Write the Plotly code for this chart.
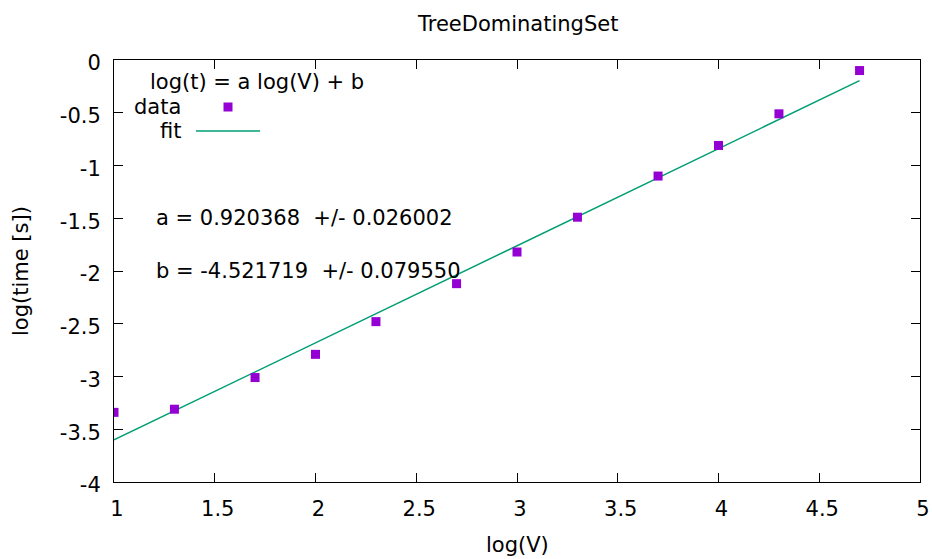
import plotly.graph_objects as go

# Data
log_v = [1.0, 1.3, 1.7, 2.0, 2.3, 2.7, 3.0, 3.3, 3.7, 4.0, 4.3, 4.7]
log_t = [-3.34, -3.31, -3.01, -2.79, -2.48, -2.12, -1.82, -1.49, -1.10, -0.81, -0.51, -0.10]
fit_a = 0.920368
fit_b = -4.521719
fit_a_err = 0.026002
fit_b_err = 0.079550
fit_x = [1.0, 4.7]
fit_y = [fit_a * x + fit_b for x in fit_x]
x_ticks = [1, 1.5, 2, 2.5, 3, 3.5, 4, 4.5, 5]
y_ticks = [0, -0.5, -1, -1.5, -2, -2.5, -3, -3.5, -4]

PURPLE = "#9400D3"
GREEN = "#009E73"
FONT = "DejaVu Sans"
FS = 21

W, H = 932, 559
L, R, T, B = 114, 12, 60, 77

fig = go.Figure()
fig.add_trace(go.Scatter(x=fit_x, y=fit_y, mode="lines",
                         line=dict(color=GREEN, width=1.5), showlegend=False))
fig.add_trace(go.Scatter(x=log_v, y=log_t, mode="markers",
                         marker=dict(symbol="square", size=9, color=PURPLE,
                                     line=dict(width=0)), showlegend=False))

pw = W - L - R
ph = H - T - B


def px(xp):
    return (xp - L) / pw


def py(yp):
    return 1 - (yp - T) / ph


ann = []
# Title
ann.append(dict(text="TreeDominatingSet", x=px(517), y=py(24), xref="paper", yref="paper",
                showarrow=False, xanchor="center", yanchor="middle", font=dict(size=FS)))
# Axis titles
ann.append(dict(text="log(V)", x=px(517), y=py(545), xref="paper", yref="paper",
                showarrow=False, xanchor="center", yanchor="middle", font=dict(size=FS)))
ann.append(dict(text="log(time [s])", x=px(21), y=py(271), xref="paper", yref="paper",
                showarrow=False, xanchor="center", yanchor="middle", textangle=-90, font=dict(size=FS)))
# Legend texts
ann.append(dict(text="log(t) = a log(V) + b", x=px(257), y=py(82), xref="paper", yref="paper",
                showarrow=False, xanchor="center", yanchor="middle", font=dict(size=FS)))
ann.append(dict(text="data", x=px(183), y=py(107), xref="paper", yref="paper",
                showarrow=False, xanchor="right", yanchor="middle", font=dict(size=FS)))
ann.append(dict(text="fit", x=px(183), y=py(131), xref="paper", yref="paper",
                showarrow=False, xanchor="right", yanchor="middle", font=dict(size=FS)))
# Fit parameter labels
ann.append(dict(text=f"a = {fit_a:.6f}\u00a0\u00a0+/- {fit_a_err:.6f}", x=1.2, y=-1.5,
                showarrow=False, xanchor="left", yanchor="middle", font=dict(size=FS)))
ann.append(dict(text=f"b = {fit_b:.6f}\u00a0\u00a0+/- {fit_b_err:.6f}", x=1.2, y=-2.0,
                showarrow=False, xanchor="left", yanchor="middle", font=dict(size=FS)))

shapes = [
    # legend sample: data marker
    dict(type="rect", xref="paper", yref="paper", x0=px(223.5), x1=px(232.5),
         y0=py(111.5), y1=py(102.5), fillcolor=PURPLE, line=dict(width=0)),
    # legend sample: fit line
    dict(type="line", xref="paper", yref="paper", x0=px(196), x1=px(260),
         y0=py(131), y1=py(131), line=dict(color=GREEN, width=1.5)),
]

fig.update_layout(
    width=W, height=H, autosize=False,
    margin=dict(l=L, r=R, t=T, b=B, pad=0, autoexpand=False),
    paper_bgcolor="white", plot_bgcolor="white",
    font=dict(family=FONT, size=FS, color="black"),
    annotations=ann, shapes=shapes,
    showlegend=False,
)
fig.update_xaxes(range=[1, 5], tickvals=x_ticks, ticktext=[f"{v:g}" for v in x_ticks],
                 showgrid=False, zeroline=False, showline=True, linecolor="black", linewidth=1,
                 mirror="ticks", ticks="inside", ticklen=9, tickcolor="black", tickwidth=1,
                 ticklabelstandoff=8, ticklabelshift=3, automargin=False)
fig.update_yaxes(range=[-4, 0], tickvals=y_ticks, ticktext=[f"{v:g}" for v in y_ticks],
                 showgrid=False, zeroline=False, showline=True, linecolor="black", linewidth=1,
                 mirror="ticks", ticks="inside", ticklen=9, tickcolor="black", tickwidth=1,
                 ticklabelstandoff=8, ticklabelshift=3, automargin=False)

fig.write_html("out.html")
